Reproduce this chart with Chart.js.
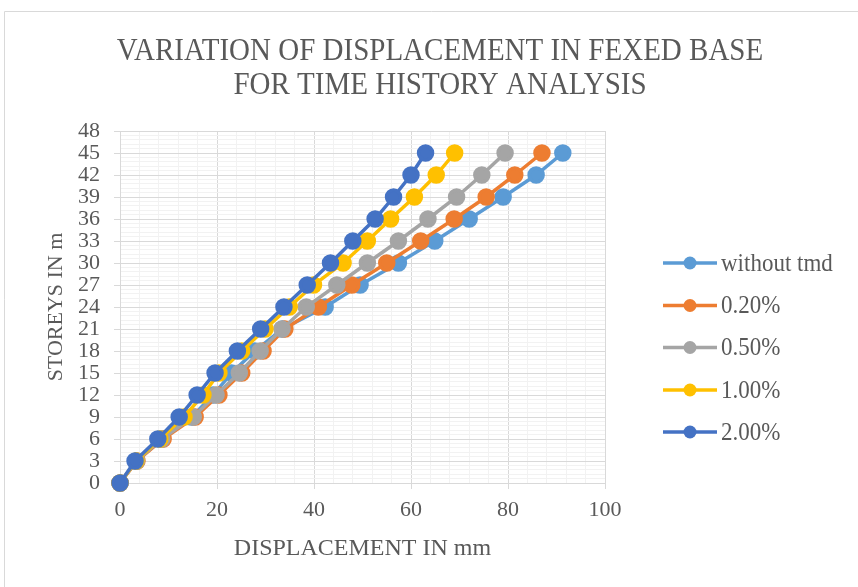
<!DOCTYPE html>
<html>
<head>
<meta charset="utf-8">
<script src="https://cdn.jsdelivr.net/npm/chart.js@4.4.1/dist/chart.umd.min.js"></script>
<style>
  html, body { margin: 0; padding: 0; background: #ffffff; }
  #wrap { width: 858px; height: 587px; position: relative; }
</style>
</head>
<body>
<div id="wrap"><canvas id="chart" width="858" height="587"></canvas></div>
<script>
// Storey heights (m) and roof displacement (mm) for each damping ratio
const storeys      = [0, 3, 6, 9, 12, 15, 18, 21, 24, 27, 30, 33, 36, 39, 42, 45];
const withoutTmd   = [0, 3.4, 8.6, 14.8, 19.2, 23.0, 27.8, 33.5, 42.3, 49.5, 57.4, 64.9, 72.0, 79.0, 85.8, 91.3];
const tmd020       = [0, 3.5, 8.9, 15.5, 20.4, 25.1, 29.5, 34.0, 40.9, 47.8, 55.0, 62.0, 68.9, 75.5, 81.4, 87.0];
const tmd050       = [0, 3.4, 8.6, 15.1, 19.8, 24.6, 28.9, 33.4, 38.4, 44.7, 51.0, 57.4, 63.5, 69.4, 74.6, 79.4];
const tmd100       = [0, 3.3, 8.2, 13.2, 17.1, 20.4, 25.1, 29.9, 34.9, 39.9, 46.0, 51.0, 55.8, 60.7, 65.2, 69.0];
const tmd200       = [0, 3.1, 7.8, 12.2, 15.9, 19.6, 24.2, 29.0, 33.8, 38.6, 43.4, 48.0, 52.6, 56.4, 60.0, 63.0];

const seriesNames  = ['without tmd', '0.20%', '0.50%', '1.00%', '2.00%'];
const seriesValues = [withoutTmd, tmd020, tmd050, tmd100, tmd200];
const seriesColors = ['#5B9BD5', '#ED7D31', '#A5A5A5', '#FFC000', '#4472C4'];

const xTickLabels  = [0, 20, 40, 60, 80, 100];
const yTickLabels  = [0, 3, 6, 9, 12, 15, 18, 21, 24, 27, 30, 33, 36, 39, 42, 45, 48];
const titleLines   = ['VARIATION OF DISPLACEMENT IN FEXED BASE', 'FOR TIME HISTORY ANALYSIS'];
const xAxisTitle   = 'DISPLACEMENT IN mm';
const yAxisTitle   = 'STOREYS IN m';

const FONT = "'Liberation Serif', 'Times New Roman', serif";
const TEXT = '#595959';
const MAJOR = '#D9D9D9';
const MINOR = '#F2F2F2';

const isMajorY = v => yTickLabels.includes(Math.round(v * 10) / 10);
const isMajorX = v => xTickLabels.includes(Math.round(v * 10) / 10);

const datasets = seriesNames.map((name, i) => ({
  label: name,
  data: storeys.map((s, k) => ({ x: seriesValues[i][k], y: s })),
  showLine: true,
  clip: false,
  borderColor: seriesColors[i],
  backgroundColor: seriesColors[i],
  pointBackgroundColor: seriesColors[i],
  pointBorderColor: seriesColors[i],
  borderWidth: 3.5,
  pointRadius: 7,
  pointHoverRadius: 7,
  tension: 0,
  order: seriesNames.length - i   // later series sit on top
}));

// Draws text slightly taller than wide, like the heading type
function tallText(ctx, text, x, y, stretch) {
  ctx.save();
  ctx.translate(x, y);
  ctx.scale(1, stretch);
  ctx.fillText(text, 0, 0);
  ctx.restore();
}

// Chart frame, two-line heading and the line-and-marker key on the right
const decorations = {
  id: 'decorations',
  beforeDraw(chart) {
    const ctx = chart.ctx;
    ctx.save();
    ctx.strokeStyle = MAJOR;
    ctx.lineWidth = 1;
    ctx.beginPath();
    ctx.moveTo(4.5, 600);
    ctx.lineTo(4.5, 11.5);
    ctx.lineTo(870, 11.5);
    ctx.stroke();
    ctx.restore();
  },
  afterDraw(chart) {
    const ctx = chart.ctx;
    ctx.save();
    ctx.fillStyle = TEXT;
    ctx.textAlign = 'center';
    ctx.textBaseline = 'middle';
    ctx.font = '29px ' + FONT;
    titleLines.forEach((t, i) => tallText(ctx, t, 440, 51 + i * 34, 1.12));

    const rows = [263, 305.5, 347.5, 390, 432];
    chart.data.datasets.forEach((ds, i) => {
      const y = rows[i];
      ctx.strokeStyle = ds.borderColor;
      ctx.lineWidth = 3.5;
      ctx.beginPath();
      ctx.moveTo(663, y);
      ctx.lineTo(717, y);
      ctx.stroke();
      ctx.fillStyle = ds.borderColor;
      ctx.beginPath();
      ctx.arc(690, y, 6.5, 0, Math.PI * 2);
      ctx.fill();
      ctx.fillStyle = TEXT;
      ctx.textAlign = 'left';
      ctx.font = '23px ' + FONT;
      tallText(ctx, ds.label, 721, y + 1, 1.08);
    });
    ctx.restore();
  }
};

new Chart(document.getElementById('chart'), {
  type: 'scatter',
  data: { datasets },
  options: {
    responsive: false,
    devicePixelRatio: 1,
    animation: false,
    events: [],
    layout: { padding: { left: 0, top: 131, right: 253, bottom: 0 } },
    plugins: {
      legend: { display: false },
      title: { display: false },
      tooltip: { enabled: false }
    },
    scales: {
      x: {
        type: 'linear',
        min: 0, max: 100,
        afterFit(scale) { scale.height = 104; },
        border: { color: MAJOR, width: 1 },
        grid: {
          color: c => isMajorX(c.tick.value) ? MAJOR : MINOR,
          tickColor: c => isMajorX(c.tick.value) ? MAJOR : 'rgba(0,0,0,0)',
          tickLength: 6,
          lineWidth: 1
        },
        ticks: {
          stepSize: 4,
          maxTicksLimit: 100,
          autoSkip: false,
          maxRotation: 0,
          padding: 8,
          color: TEXT,
          font: { family: FONT, size: 22 },
          callback: v => isMajorX(v) ? String(Math.round(v)) : ''
        },
        title: {
          display: true,
          text: xAxisTitle,
          color: TEXT,
          font: { family: FONT, size: 24 },
          padding: { top: 0, bottom: 24 }
        }
      },
      y: {
        type: 'linear',
        min: 0, max: 48,
        afterFit(scale) { scale.width = 120; },
        border: { color: MAJOR, width: 1 },
        grid: {
          color: c => isMajorY(c.tick.value) ? MAJOR : MINOR,
          tickColor: c => isMajorY(c.tick.value) ? MAJOR : 'rgba(0,0,0,0)',
          tickLength: 6,
          lineWidth: 1
        },
        ticks: {
          stepSize: 0.6,
          maxTicksLimit: 100,
          autoSkip: false,
          padding: 14,
          color: TEXT,
          font: { family: FONT, size: 22 },
          callback: v => isMajorY(v) ? String(Math.round(v)) : ''
        },
        title: {
          display: true,
          text: yAxisTitle,
          color: TEXT,
          font: { family: FONT, size: 22 },
          padding: { top: 43, bottom: 0 }
        }
      }
    }
  },
  plugins: [decorations]
});
</script>
</body>
</html>
